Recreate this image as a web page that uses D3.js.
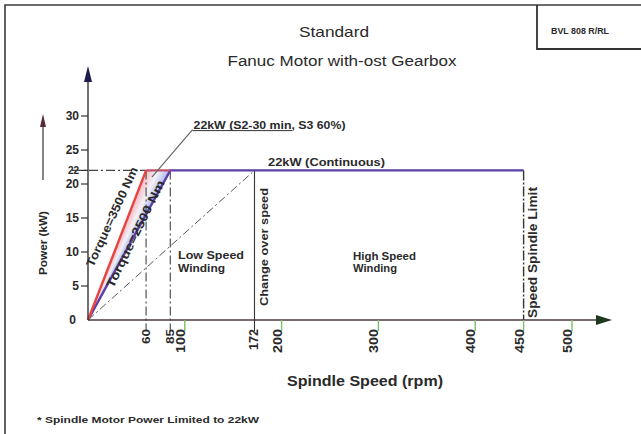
<!DOCTYPE html>
<html><head><meta charset="utf-8">
<script src="https://cdn.jsdelivr.net/npm/d3@7"></script>
<style>
body{margin:0;background:#fff}
text{font-family:"Liberation Sans Narrow","Liberation Sans",Arial,sans-serif;font-weight:bold;fill:#2a2a2a}
</style>
</head><body>
<svg id="c" width="641" height="434"></svg>
<script>
// ---- data ----
const xTickValues = [60, 85, 100, 172, 200, 300, 400, 450, 500];
const xTickLabels = ["60", "85", "100", "172", "200", "300", "400", "450", "500"];
const greenTicks = [100, 200, 300, 400, 450, 500];
const yTickValues = [0, 5, 10, 15, 20, 22, 25, 30];
const yTickLabels = ["0", "5", "10", "15", "20", "22", "25", "30"];
const s2Curve = [[0, 0], [60, 22]];            // Torque=3500 Nm
const s1Curve = [[0, 0], [85, 22], [450, 22]];  // Torque=2500 Nm + 22 kW continuous
const topEdge = [[60, 22], [85, 22]];
const lowWindingLine = [[0, 0], [172, 22]];
const markerSpeeds = [60, 85];
const changeOverSpeed = 172;
const spindleLimit = 450;
const maxPower = 22;

const svg = d3.select("#c");
const x = d3.scaleLinear().domain([0, 500]).range([88, 572]);
const y = d3.scaleLinear().domain([0, 30]).range([320, 116]);
const line = d3.line().x(d => x(d[0])).y(d => y(d[1]));

// frame
svg.append("path").attr("d", "M5,434 L5,5 L641,5").attr("fill", "none").attr("stroke", "#3a3a3a").attr("stroke-width", 1.6);
svg.append("path").attr("d", "M537,5 L537,49 L641,49").attr("fill", "none").attr("stroke", "#333").attr("stroke-width", 1.8);
svg.append("text").attr("x", 580).attr("y", 34).attr("text-anchor", "middle").attr("font-size", 9)
  .attr("textLength", 58).attr("lengthAdjust", "spacingAndGlyphs").text("BVL 808 R/RL");

// titles
svg.append("text").attr("x", 334).attr("y", 37).attr("text-anchor", "middle").attr("font-size", 15).style("font-weight", "normal")
  .attr("textLength", 70).attr("lengthAdjust", "spacingAndGlyphs").text("Standard");
svg.append("text").attr("x", 342).attr("y", 66).attr("text-anchor", "middle").attr("font-size", 14).style("font-weight", "normal")
  .attr("textLength", 229).attr("lengthAdjust", "spacingAndGlyphs").text("Fanuc Motor with-ost Gearbox");

// fan-shaded region between the two torque lines
const N = 24;
const col = d3.scaleLinear().domain([0, 0.5, 1]).range(["#f2b3bb", "#f3f1f8", "#a9b6ea"]).interpolate(d3.interpolateRgb);
for (let i = 0; i < N; i++) {
  const s0 = topEdge[0][0] + (topEdge[1][0] - topEdge[0][0]) * i / N;
  const s1 = topEdge[0][0] + (topEdge[1][0] - topEdge[0][0]) * (i + 1) / N;
  svg.append("path").attr("d", line([[0, 0], [s0, maxPower], [s1, maxPower]]) + "Z")
    .attr("fill", col((i + 0.5) / N)).attr("stroke", col((i + 0.5) / N)).attr("stroke-width", 0.4);
}

// dash-dot helper lines
svg.append("line").attr("x1", 72).attr("x2", x(60)).attr("y1", y(maxPower)).attr("y2", y(maxPower))
  .attr("stroke", "#444").attr("stroke-width", 1.3).attr("stroke-dasharray", "9,3,2,3");
markerSpeeds.forEach(s => {
  svg.append("line").attr("x1", x(s)).attr("x2", x(s)).attr("y1", y(maxPower)).attr("y2", 331)
    .attr("stroke", "#444").attr("stroke-width", 1.1).attr("stroke-dasharray", "9,3,2,3");
});
svg.append("path").attr("d", line(lowWindingLine)).attr("fill", "none")
  .attr("stroke", "#5a5566").attr("stroke-width", 1).attr("stroke-dasharray", "8,3,2,3");
svg.append("line").attr("x1", x(changeOverSpeed)).attr("x2", x(changeOverSpeed)).attr("y1", y(maxPower)).attr("y2", 331)
  .attr("stroke", "#333").attr("stroke-width", 1.1);
svg.append("line").attr("x1", x(spindleLimit)).attr("x2", x(spindleLimit)).attr("y1", y(maxPower)).attr("y2", 320)
  .attr("stroke", "#333").attr("stroke-width", 1.4).attr("stroke-dasharray", "10,2,2,2");

// power curves
svg.append("path").attr("d", line(s1Curve)).attr("fill", "none").attr("stroke", "#5b3fa6").attr("stroke-width", 2.4);
svg.append("path").attr("d", line(topEdge)).attr("fill", "none").attr("stroke", "#c04a6a").attr("stroke-width", 2.2);
svg.append("path").attr("d", line(s2Curve)).attr("fill", "none").attr("stroke", "#e8433f").attr("stroke-width", 2.4);

// axes
svg.append("line").attr("x1", 88).attr("x2", 88).attr("y1", 320).attr("y2", 78).attr("stroke", "#333").attr("stroke-width", 1.4);
svg.append("path").attr("d", "M88,66 L84,82 L92,82 Z").attr("fill", "#1e1b4a");
svg.append("line").attr("x1", 88).attr("x2", 600).attr("y1", 320).attr("y2", 320).attr("stroke", "#4a3a3a").attr("stroke-width", 1.4);
svg.append("path").attr("d", "M612,320 L596,315 L596,325 Z").attr("fill", "#1e3a1e");

// y ticks
yTickValues.forEach((v, i) => {
  if (v > 0) svg.append("line").attr("x1", 81).attr("x2", 88).attr("y1", y(v)).attr("y2", y(v)).attr("stroke", "#333").attr("stroke-width", 1.2);
  svg.append("text").attr("x", v === 0 ? 76 : 79).attr("y", y(v) + 4).attr("text-anchor", "end").attr("font-size", v === 22 ? 10 : 12)
    .text(yTickLabels[i]);
});

// x ticks
greenTicks.forEach(v => {
  svg.append("line").attr("x1", x(v)).attr("x2", x(v)).attr("y1", 320).attr("y2", 331).attr("stroke", "#7fbf6a").attr("stroke-width", 1.4);
});
xTickValues.forEach((v, i) => {
  const green = greenTicks.includes(v);
  const cx = green ? x(v) - 4 : x(v);
  const small = (v === 60 || v === 85);
  svg.append("text").attr("transform", `translate(${cx + 4},329) rotate(-90)`).attr("text-anchor", "end")
    .attr("font-size", small ? 11 : 12)
    .attr("textLength", small ? 15 : (v === 172 ? 21 : 24)).attr("lengthAdjust", "spacingAndGlyphs")
    .text(xTickLabels[i]);
});

// axis titles
svg.append("text").attr("x", 365).attr("y", 386).attr("text-anchor", "middle").attr("font-size", 15)
  .attr("textLength", 156).attr("lengthAdjust", "spacingAndGlyphs").text("Spindle Speed (rpm)");
svg.append("text").attr("transform", "translate(47,243) rotate(-90)").attr("text-anchor", "middle").attr("font-size", 11)
  .attr("textLength", 64).attr("lengthAdjust", "spacingAndGlyphs").text("Power (kW)");
svg.append("line").attr("x1", 43).attr("x2", 43).attr("y1", 180).attr("y2", 126).attr("stroke", "#333").attr("stroke-width", 1.2);
svg.append("path").attr("d", "M43,114 L40,127 L46,127 Z").attr("fill", "#5a2a3a");

// annotations
svg.append("line").attr("x1", x(108)).attr("y1", y(28)).attr("x2", x(66)).attr("y2", y(21))
  .attr("stroke", "#666").attr("stroke-width", 1.2);
svg.append("text").attr("x", x(108) + 1).attr("y", y(28) - 1).attr("font-size", 11)
  .attr("textLength", 152).attr("lengthAdjust", "spacingAndGlyphs").text("22kW (S2-30 min, S3 60%)");
svg.append("line").attr("x1", x(108)).attr("x2", x(108) + 100).attr("y1", y(28) + 1).attr("y2", y(28) + 1).attr("stroke", "#333").attr("stroke-width", 1);
svg.append("text").attr("x", 268).attr("y", y(maxPower) - 4).attr("font-size", 11)
  .attr("textLength", 117).attr("lengthAdjust", "spacingAndGlyphs").text("22kW (Continuous)");

svg.append("text").attr("x", 178).attr("y", 259).attr("font-size", 11).attr("textLength", 66).attr("lengthAdjust", "spacingAndGlyphs").text("Low Speed");
svg.append("text").attr("x", 178).attr("y", 272).attr("font-size", 11).attr("textLength", 47).attr("lengthAdjust", "spacingAndGlyphs").text("Winding");
svg.append("text").attr("x", 353).attr("y", 260).attr("font-size", 10).attr("textLength", 63).attr("lengthAdjust", "spacingAndGlyphs").text("High Speed");
svg.append("text").attr("x", 353).attr("y", 272).attr("font-size", 10).attr("textLength", 44).attr("lengthAdjust", "spacingAndGlyphs").text("Winding");

svg.append("text").attr("transform", `translate(${x(changeOverSpeed) + 14},306) rotate(-90)`).attr("font-size", 11.5)
  .attr("textLength", 118).attr("lengthAdjust", "spacingAndGlyphs").text("Change over speed");
svg.append("text").attr("transform", `translate(${x(spindleLimit) + 13},318) rotate(-90)`).attr("font-size", 12)
  .attr("textLength", 131).attr("lengthAdjust", "spacingAndGlyphs").text("Speed Spindle Limit");

// torque labels along lines
svg.append("text").attr("transform", `translate(${x(5.5)},${y(7.7)}) rotate(-65.5)`).attr("font-size", 12)
  .attr("textLength", 108).attr("lengthAdjust", "spacingAndGlyphs").text("Torque=3500 Nm");
svg.append("text").attr("transform", `translate(${x(26)},${y(4.6)}) rotate(-64)`).attr("font-size", 12)
  .attr("textLength", 118).attr("lengthAdjust", "spacingAndGlyphs").text("Torque=2500 Nm");

// footnote
svg.append("text").attr("x", 37).attr("y", 423).attr("font-size", 9.5)
  .attr("textLength", 222).attr("lengthAdjust", "spacingAndGlyphs").text("* Spindle Motor Power Limited to 22kW");
</script>
</body></html>
